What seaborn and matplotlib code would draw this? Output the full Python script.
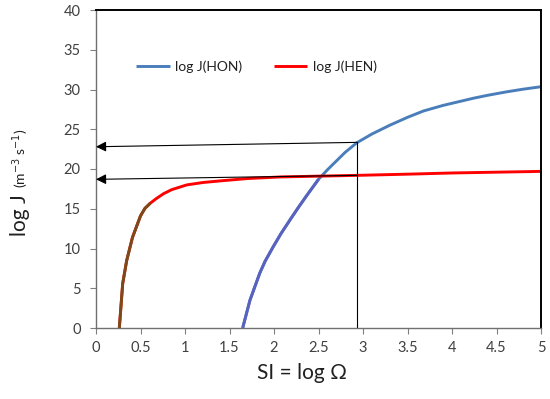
import matplotlib
matplotlib.use("Agg")
import matplotlib.pyplot as plt
import seaborn as sns
import pandas as pd

# ---- data ----
hon_x = [1.648, 1.73, 1.84, 1.90, 1.99, 2.08, 2.18, 2.27, 2.37, 2.50, 2.60, 2.70, 2.80, 2.93,
         3.10, 3.30, 3.50, 3.68, 3.90, 4.24, 4.40, 4.61, 4.80, 5.00]
hon_y = [0.0, 3.5, 6.9, 8.4, 10.2, 11.9, 13.6, 15.1, 16.7, 18.7, 19.9, 21.0, 22.1, 23.3,
         24.4, 25.5, 26.5, 27.3, 28.0, 28.9, 29.27, 29.7, 30.04, 30.35]
hen_x = [0.262, 0.30, 0.345, 0.41, 0.50, 0.55, 0.61, 0.68, 0.76, 0.85, 1.02, 1.20, 1.39, 1.70,
         2.07, 2.50, 2.93, 3.50, 4.00, 4.50, 5.00]
hen_y = [0.0, 5.6, 8.5, 11.4, 14.1, 15.05, 15.7, 16.3, 16.9, 17.4, 18.0, 18.3, 18.5, 18.8,
         19.0, 19.1, 19.2, 19.35, 19.5, 19.6, 19.7]
xticks = [0, 0.5, 1, 1.5, 2, 2.5, 3, 3.5, 4, 4.5, 5]
yticks = [0, 5, 10, 15, 20, 25, 30, 35, 40]
si_mark = 2.93
arrow_from = [(2.93, 23.35), (2.93, 19.2)]
arrow_to = [(0.0, 22.8), (0.0, 18.7)]

sns.set_theme(style="white")
plt.rcParams['font.family'] = ['Lato', 'DejaVu Sans']

fig = plt.figure(figsize=(5.5, 3.99), dpi=100)
ax = fig.add_axes([96/550, 1-328/399, 445/550, 318/399])

hon = pd.DataFrame({"x": hon_x, "y": hon_y})
hen = pd.DataFrame({"x": hen_x, "y": hen_y})

blue = "#4a7ebb"
red = "#ff0000"
sns.lineplot(data=hon, x="x", y="y", ax=ax, color=blue, lw=2.1, label="log J(HON)", sort=False)
sns.lineplot(data=hon[hon.x <= 2.5], x="x", y="y", ax=ax, color="#5a62c0", lw=2.1, sort=False, legend=False)
sns.lineplot(data=hen, x="x", y="y", ax=ax, color=red, lw=2.1, label="log J(HEN)", sort=False)
sns.lineplot(data=hen[hen.x <= 0.61], x="x", y="y", ax=ax, color="#7a4a1a", lw=2.1, sort=False, legend=False)
for line in ax.get_lines():
    line.set_solid_joinstyle("round")
    line.set_solid_capstyle("butt")

# guide lines and arrows
ax.plot([si_mark, si_mark], [0, arrow_from[0][1]], color="black", lw=0.8)
for (x0, y0), (x1, y1) in zip(arrow_from, arrow_to):
    ax.annotate("", xy=(x1, y1), xytext=(x0, y0),
                arrowprops=dict(arrowstyle="-|>", color="black", lw=0.8,
                                mutation_scale=15, shrinkA=0, shrinkB=0))

ax.set_xlim(0, 5)
ax.set_ylim(0, 40)
ax.set_xticks(xticks)
ax.set_xticklabels([f"{t:g}" for t in xticks])
ax.set_yticks(yticks)
ax.tick_params(axis="both", which="both", direction="out", length=4, width=0.8,
               color="#808080", labelsize=10.5, labelcolor="#404040", pad=5)
ax.tick_params(axis="y", pad=7)
ax.tick_params(axis="both", bottom=True, left=True)

for s in ["top", "right"]:
    ax.spines[s].set_color("black")
    ax.spines[s].set_linewidth(1.4)
for s in ["left", "bottom"]:
    ax.spines[s].set_color("#707070")
    ax.spines[s].set_linewidth(1.0)

ax.set_xlabel("SI = log Ω", fontsize=15, color="#202020")
ax.xaxis.set_label_coords((302-96)/445, -0.11, transform=ax.transAxes)
ax.set_ylabel("")
fig.text(20/550, (399-236)/399, "log J", rotation=90, fontsize=15, color="#202020",
         ha="center", va="bottom")
fig.text(21/550, (399-188)/399, "(m$^{-3}$ s$^{-1}$)", rotation=90, fontsize=10, color="#202020",
         ha="center", va="bottom")

leg = ax.legend(loc="center left", bbox_to_anchor=(132/550, 1-67/399), bbox_transform=fig.transFigure,
                ncol=2, frameon=False, fontsize=10, handlelength=2.4, handletextpad=0.4,
                columnspacing=2.3, borderaxespad=0, borderpad=0.3)
for t in leg.get_texts():
    t.set_color("#202020")

fig.savefig("out.png", dpi=100)
